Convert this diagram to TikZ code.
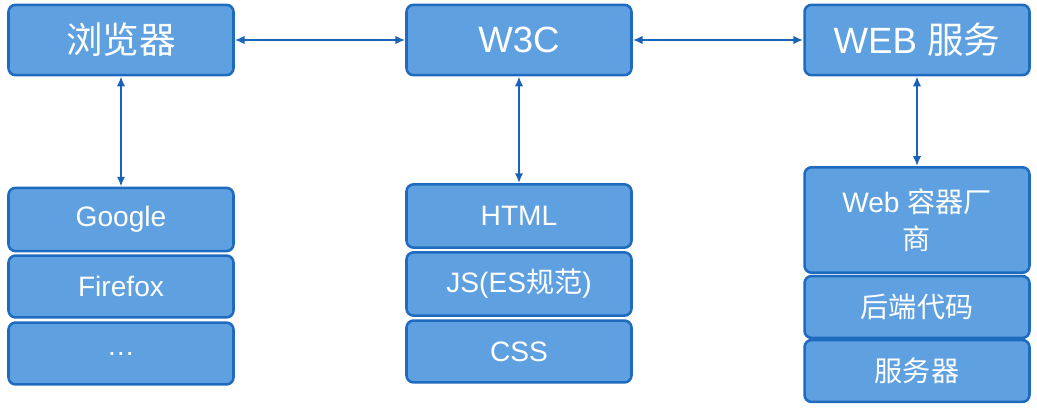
\documentclass[tikz,border=0pt]{standalone}
\usepackage{fontspec}
\setmainfont{Liberation Sans}
\newfontfamily\cjk{Noto Sans CJK SC}
\usetikzlibrary{arrows.meta}
\definecolor{boxfill}{HTML}{5FA0E0}
\definecolor{boxline}{HTML}{1F6BC0}
\definecolor{arrowcol}{HTML}{1A62B8}
\tikzset{
  box/.style={draw=boxline, fill=boxfill, line width=1.8pt, rounded corners=5pt,
    text=white, align=center, minimum width=160pt, inner sep=2pt},
  headbox/.style={box, minimum height=50pt, font=\fontsize{26}{30}\selectfont},
  itembox/.style={box, font=\fontsize{20}{26}\selectfont},
  link/.style={{Latex[length=7pt,width=6pt]}-{Latex[length=7pt,width=6pt]}, arrowcol, line width=1.6pt}
}
\begin{document}
\begin{tikzpicture}[x=0.025cm, y=-0.025cm]
        \useasboundingbox (0,0) rectangle (1037,420);

        % top row
        \node[headbox] (browser) at (121,40) {{\cjk 浏览器}};
        \node[headbox] (w3c) at (519,40) {W3C};
        \node[headbox] (web) at (917,40) {WEB {\cjk 服务}};

        % browsers
        \node[itembox, minimum height=45pt] (google) at (121,219.5) {Google};
        \node[itembox, minimum height=44pt] (firefox) at (121,286.5) {Firefox};
        \node[itembox, minimum height=44pt] (more) at (121,353.5) {\dots};

        % standards
        \node[itembox, minimum height=45pt] (html) at (519,216) {HTML};
        \node[itembox, minimum height=45pt] (js) at (519,284) {JS(ES{\cjk 规范})};
        \node[itembox, minimum height=44pt] (css) at (519,351.5) {CSS};

        % server side
        \node[itembox, minimum height=75pt] (vendor) at (917,220) {Web {\cjk 容器厂}\\{\cjk 商}};
        \node[itembox, minimum height=44pt] (backend) at (917,307) {{\cjk 后端代码}};
        \node[itembox, minimum height=44pt] (server) at (917,371) {{\cjk 服务器}};

        \draw[link] (browser) -- (w3c);
        \draw[link] (w3c) -- (web);
        \draw[link] (browser) -- (google);
        \draw[link] (w3c) -- (html);
        \draw[link] (web) -- (vendor);
\end{tikzpicture}
\end{document}
